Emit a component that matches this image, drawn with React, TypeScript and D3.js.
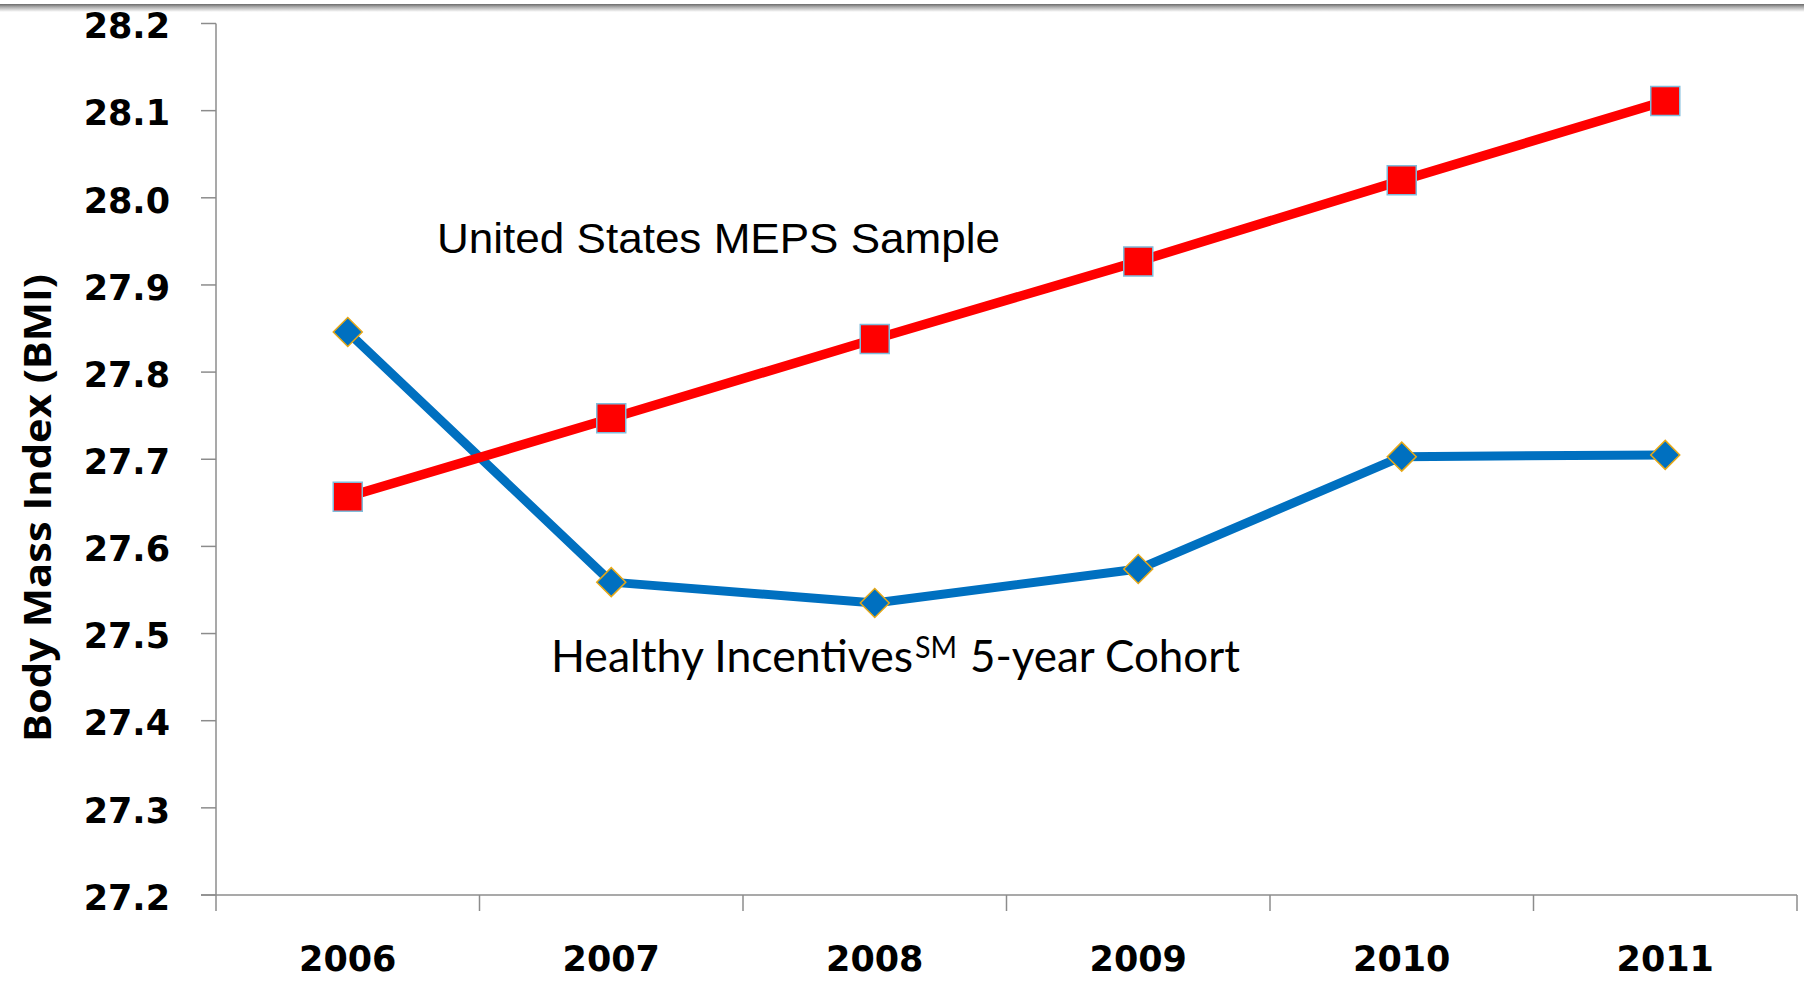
import React from "react";
import * as d3 from "d3";

const years = ["2006", "2007", "2008", "2009", "2010", "2011"];
const mepsValues = [27.657, 27.747, 27.838, 27.927, 28.02, 28.111];
const cohortValues = [27.846, 27.559, 27.535, 27.574, 27.703, 27.705];
const yTicks = [27.2, 27.3, 27.4, 27.5, 27.6, 27.7, 27.8, 27.9, 28.0, 28.1, 28.2];
const yTitle = "Body Mass Index (BMI)";
const mepsLabel = "United States MEPS Sample";
const cohortLabelA = "Healthy Incentives";
const cohortLabelSup = "SM";
const cohortLabelB = "5-year Cohort";

const W = 1804;
const H = 982;
const left = 216;
const right = 1797;
const top = 23.5;
const bottom = 895;

export default function App() {
  const x = d3.scaleBand<string>().domain(years).range([left, right]).padding(0);
  const y = d3.scaleLinear().domain([27.2, 28.2]).range([bottom, top]);
  const cx = (yr: string) => (x(yr) as number) + x.bandwidth() / 2;

  const line = d3
    .line<number>()
    .x((_, i) => cx(years[i]))
    .y((v) => y(v));

  const squarePath = d3.symbol().type(d3.symbolSquare).size(29 * 29)() as string;
  const diamondPath = d3.symbol().type(d3.symbolSquare).size(20.5 * 20.5)() as string;

  const boundaries = [...years.map((yr) => x(yr) as number), right];
  const axisColor = "#8c8c8c";
  const numFont = "'DejaVu Sans', sans-serif";

  return (
    <div style={{ position: "fixed", left: 0, top: 0, width: W, height: H, background: "#fff" }}>
      <svg width={W} height={H} viewBox={`0 0 ${W} ${H}`} style={{ display: "block" }}>
        <defs>
          <linearGradient id="topShade" x1="0" y1="0" x2="0" y2="1">
            <stop offset="0" stopColor="#6a6a6a" />
            <stop offset="0.35" stopColor="#a8a8a8" />
            <stop offset="1" stopColor="#ffffff" />
          </linearGradient>
        </defs>
        <rect x={0} y={0} width={W} height={H} fill="#fff" />
        <rect x={0} y={4} width={W} height={8} fill="url(#topShade)" />

        {/* Y axis */}
        <line x1={left} x2={left} y1={top} y2={bottom} stroke={axisColor} strokeWidth={1.5} />
        {yTicks.map((t) => (
          <g key={t}>
            <line x1={left - 15} x2={left} y1={y(t)} y2={y(t)} stroke={axisColor} strokeWidth={1.5} />
            <text
              x={170}
              y={y(t)}
              dy="0.42em"
              textAnchor="end"
              fontFamily={numFont}
              fontWeight="bold"
              fontSize={35}
              fill="#000"
            >
              {t.toFixed(1)}
            </text>
          </g>
        ))}

        {/* X axis */}
        <line x1={left - 15} x2={right} y1={bottom} y2={bottom} stroke={axisColor} strokeWidth={1.5} />
        {boundaries.map((b, i) => (
          <line key={i} x1={b} x2={b} y1={bottom} y2={bottom + 16} stroke={axisColor} strokeWidth={1.5} />
        ))}
        {years.map((yr) => (
          <text
            key={yr}
            x={cx(yr)}
            y={971}
            textAnchor="middle"
            fontFamily={numFont}
            fontWeight="bold"
            fontSize={35}
            fill="#000"
          >
            {yr}
          </text>
        ))}

        {/* Y title */}
        <text
          transform={`translate(51,508) rotate(-90)`}
          textAnchor="middle"
          fontFamily="'Open Sans', 'DejaVu Sans', sans-serif"
          fontWeight="bold"
          fontSize={38}
          textLength={468}
          lengthAdjust="spacingAndGlyphs"
          fill="#000"
        >
          {yTitle}
        </text>

        {/* Series lines */}
        <path d={line(cohortValues) as string} fill="none" stroke="#0070C0" strokeWidth={9} strokeLinejoin="round" />
        <path d={line(mepsValues) as string} fill="none" stroke="#FF0000" strokeWidth={9.5} strokeLinejoin="round" />

        {/* Markers */}
        {cohortValues.map((v, i) => (
          <path
            key={"c" + i}
            d={diamondPath}
            transform={`translate(${cx(years[i])},${y(v)}) rotate(45)`}
            fill="#0070C0"
            stroke="#E6A817"
            strokeWidth={1.5}
          />
        ))}
        {mepsValues.map((v, i) => (
          <path
            key={"m" + i}
            d={squarePath}
            transform={`translate(${cx(years[i])},${y(v)})`}
            fill="#FF0000"
            stroke="#7FBCDB"
            strokeWidth={1.5}
          />
        ))}

        {/* Annotations */}
        <text
          x={437}
          y={253}
          fontFamily="'Liberation Sans Narrow', 'Liberation Sans', 'Roboto', sans-serif"
          fontSize={43}
          textLength={563}
          lengthAdjust="spacingAndGlyphs"
          fill="#000"
        >
          {mepsLabel}
        </text>
        <text
          x={551}
          y={672}
          fontFamily="Lato, 'Open Sans', sans-serif"
          fontSize={44}
          textLength={362}
          lengthAdjust="spacingAndGlyphs"
          fill="#000"
        >
          {cohortLabelA}
        </text>
        <text
          x={915}
          y={658}
          fontFamily="Lato, 'Open Sans', sans-serif"
          fontSize={30}
          textLength={42}
          lengthAdjust="spacingAndGlyphs"
          fill="#000"
        >
          {cohortLabelSup}
        </text>
        <text
          x={970}
          y={672}
          fontFamily="Lato, 'Open Sans', sans-serif"
          fontSize={44}
          textLength={270}
          lengthAdjust="spacingAndGlyphs"
          fill="#000"
        >
          {cohortLabelB}
        </text>
      </svg>
    </div>
  );
}
